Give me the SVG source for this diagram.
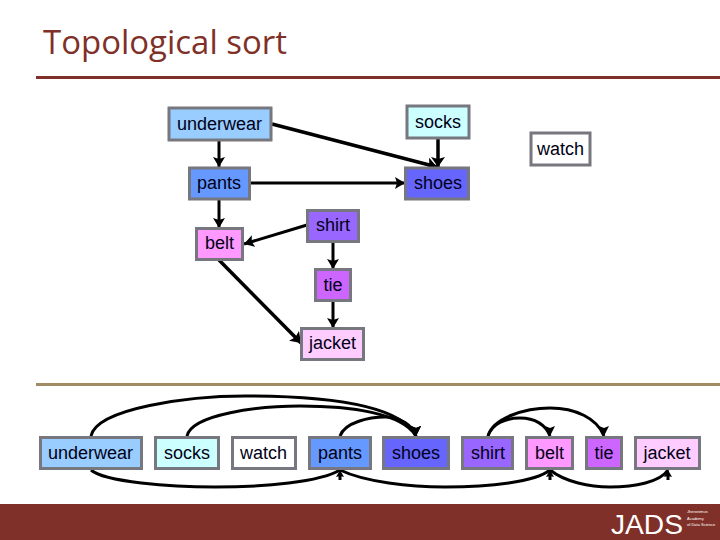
<svg xmlns="http://www.w3.org/2000/svg" width="720" height="540" viewBox="0 0 720 540">
<style>
.n{stroke:#77777f;stroke-width:3}
.t{font-family:"Liberation Sans",Arial,sans-serif;font-size:18px;text-anchor:middle;fill:#000016}
.c{fill:none;stroke:#000;stroke-width:3;marker-end:url(#a)}
.d{fill:none;stroke:#000;stroke-width:3.5;marker-end:url(#b)}
.u{fill:none;stroke:#000;stroke-width:3;marker-end:url(#up)}
.k{fill:none;stroke:#000;stroke-width:3;marker-end:url(#down)}
.l{font-family:"Liberation Sans",sans-serif;font-size:4px;fill:#fff}
</style>
<defs>
<marker id="a" markerUnits="userSpaceOnUse" markerWidth="11" markerHeight="12" refX="10" refY="6" orient="auto"><path d="M0 0L10 6L0 12L2 6Z" fill="#000"/></marker>
<marker id="b" markerUnits="userSpaceOnUse" markerWidth="11" markerHeight="14" refX="10" refY="7" orient="auto"><path d="M0 0L10 7L0 14L2 7Z" fill="#000"/></marker>
<marker id="up" markerUnits="userSpaceOnUse" markerWidth="12" markerHeight="12" refX="5" refY="0" orient="0" overflow="visible"><path d="M5 0L9 7L5 6L1 7Z" fill="#000"/><path d="M5 5V10" stroke="#000" stroke-width="3"/></marker>
<marker id="down" markerUnits="userSpaceOnUse" markerWidth="12" markerHeight="10" refX="5" refY="10" orient="0"><path d="M0 0L5 2L10 0L5 10Z" fill="#000"/></marker>
</defs>
<rect width="720" height="540" fill="#fff"/>
<text x="43" y="54" font-family="'Open Sans','Noto Sans',sans-serif" font-size="33" fill="#7f3028" textLength="244" lengthAdjust="spacingAndGlyphs">Topological sort</text>
<rect x="36" y="76" width="684" height="3" fill="#7f3028"/>
<rect x="36" y="383" width="684" height="3" fill="#a08c64"/>
<rect y="504" width="720" height="36" fill="#7f3028"/>
<g id="logo"><text x="611" y="534" font-family="'Liberation Sans',sans-serif" font-size="28" fill="#fff" textLength="72" lengthAdjust="spacingAndGlyphs">JADS</text>
<text class="l" x="687" y="513">Jheronimus</text>
<text class="l" x="687" y="519.500">Academy</text>
<text class="l" x="687" y="526">of Data Science</text></g>
<g id="connectors">
<path class="c" d="M219 141V167"/>
<path class="d" d="M272 124L437 167"/>
<path class="d" d="M438 139V167"/>
<path class="c" d="M251 183H405"/>
<path class="c" d="M219 200V228"/>
<path class="c" d="M307 225L244 244"/>
<path class="c" d="M333 243V269"/>
<path class="c" d="M333 301V328"/>
<path class="d" d="M219 260L301 343"/>
<path class="k" d="M91 436C97 408 190 396 245 396C325 396 400 404 416 436"/>
<path class="k" d="M187 436C192 414 260 406 300 406C350 406 402 413 416 436"/>
<path class="k" d="M340 436C345 422 370 417 385 417C400 417 412 425 416 436"/>
<path class="u" d="M91 470C105 482 170 487 215 487C265 487 320 482 340 470"/>
<path class="u" d="M340 470C365 482 410 487 445 487C490 487 535 482 550 470"/>
<path class="u" d="M550 470C565 482 590 487 610 487C635 487 660 482 668 470"/>
<path class="k" d="M488 436C493 418 525 408 550 408C575 408 597 418 604 436"/>
<path class="k" d="M488 436C492 424 505 418 520 418C535 418 546 425 550 436"/>
</g>
<g id="top-underwear"><rect class="n" x="169" y="108" width="102" height="32" fill="#99ccff"/><text class="t" x="219.500" y="130">underwear</text></g>
<g id="top-socks"><rect class="n" x="407" y="106" width="62" height="32" fill="#ccffff"/><text class="t" x="438" y="128">socks</text></g>
<g id="top-watch"><rect class="n" x="531" y="133" width="59" height="32" fill="#fff"/><text class="t" x="560.500" y="155">watch</text></g>
<g id="top-pants"><rect class="n" x="189.500" y="168" width="60" height="31" fill="#6699ff"/><text class="t" x="219" y="189">pants</text></g>
<g id="top-shoes"><rect class="n" x="405.500" y="168" width="63" height="31" fill="#6666ff"/><text class="t" x="438" y="189">shoes</text></g>
<g id="top-shirt"><rect class="n" x="307.500" y="210.500" width="51" height="31" fill="#9966ff"/><text class="t" x="333" y="231">shirt</text></g>
<g id="top-belt"><rect class="n" x="196.500" y="228.500" width="46" height="31" fill="#ff99ff"/><text class="t" x="219.500" y="249">belt</text></g>
<g id="top-tie"><rect class="n" x="315.500" y="269.500" width="35" height="31" fill="#cc66ff"/><text class="t" x="333" y="291">tie</text></g>
<g id="top-jacket"><rect class="n" x="301.500" y="328.500" width="62" height="31" fill="#ffccff"/><text class="t" x="332.500" y="349">jacket</text></g>
<g id="bottom-underwear"><rect class="n" x="40.500" y="437.500" width="101" height="31" fill="#99ccff"/><text class="t" x="90.500" y="459">underwear</text></g>
<g id="bottom-socks"><rect class="n" x="155.500" y="437.500" width="63" height="31" fill="#ccffff"/><text class="t" x="187" y="459">socks</text></g>
<g id="bottom-watch"><rect class="n" x="232.500" y="437.500" width="63" height="31" fill="#fff"/><text class="t" x="263.500" y="459">watch</text></g>
<g id="bottom-pants"><rect class="n" x="309.500" y="437.500" width="61" height="31" fill="#6699ff"/><text class="t" x="340" y="459">pants</text></g>
<g id="bottom-shoes"><rect class="n" x="383.500" y="437.500" width="65" height="31" fill="#6666ff"/><text class="t" x="416" y="459">shoes</text></g>
<g id="bottom-shirt"><rect class="n" x="462.500" y="437.500" width="50" height="31" fill="#9966ff"/><text class="t" x="488" y="459">shirt</text></g>
<g id="bottom-belt"><rect class="n" x="526.500" y="437.500" width="46" height="31" fill="#ff99ff"/><text class="t" x="549.500" y="459">belt</text></g>
<g id="bottom-tie"><rect class="n" x="586.500" y="437.500" width="35" height="31" fill="#cc66ff"/><text class="t" x="604" y="459">tie</text></g>
<g id="bottom-jacket"><rect class="n" x="635.500" y="437.500" width="64" height="31" fill="#ffccff"/><text class="t" x="667" y="459">jacket</text></g>
</svg>
